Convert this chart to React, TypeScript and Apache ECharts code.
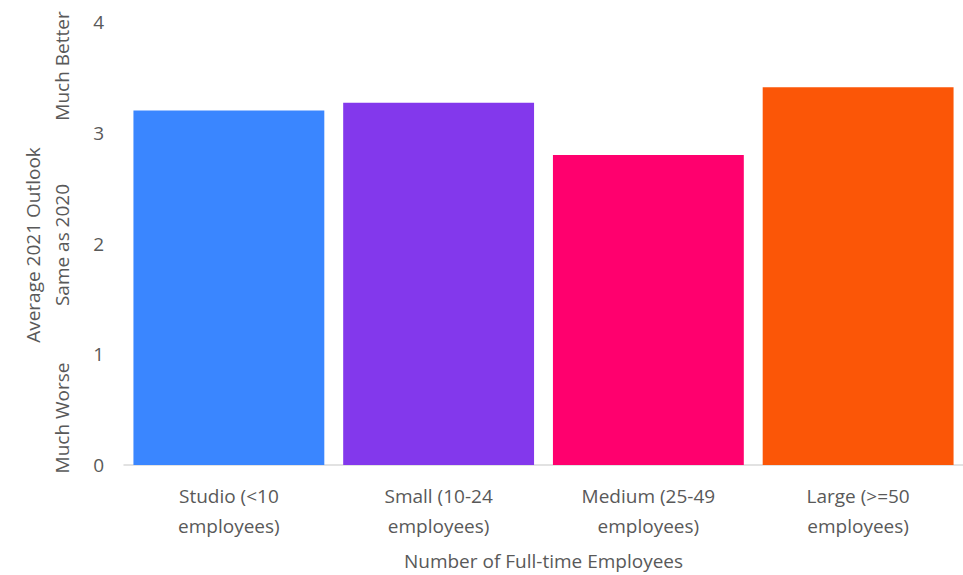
import React, { useEffect, useRef } from "react";
import * as echarts from "echarts";

const categories = ["Studio (<10\nemployees)", "Small (10-24\nemployees)", "Medium (25-49\nemployees)", "Large (>=50\nemployees)"];
const values = [3.2, 3.27, 2.8, 3.41];
const colors = ["#3A86FF", "#8338EC", "#FF006E", "#FB5607"];
const yTicks = [0, 1, 2, 3, 4];
const xAxisTitle = "Number of Full-time Employees";
const yAxisTitle = "Average 2021 Outlook";
const yScaleLabels = ["Much Worse", "Same as 2020", "Much Better"];

const FONT = "'Open Sans', 'Noto Sans', sans-serif";
const GRAY = "#595959";

export default function App() {
  const ref = useRef<HTMLDivElement>(null);
  useEffect(() => {
    const chart = echarts.init(ref.current!, null, { renderer: "svg" });
    chart.setOption({
      animation: false,
      textStyle: { fontFamily: FONT },
      grid: { left: 124, right: 0, top: 22, bottom: 100 },
      xAxis: {
        type: "category",
        data: categories,
        axisLine: { lineStyle: { color: "#d9d9d9", width: 1.5 } },
        axisTick: { show: false },
        axisLabel: { color: GRAY, fontSize: 19, lineHeight: 30, margin: 16, fontFamily: FONT },
        name: xAxisTitle,
        nameLocation: "middle",
        nameGap: 86,
        nameTextStyle: { color: GRAY, fontSize: 19, fontFamily: FONT },
      },
      yAxis: {
        type: "value",
        min: yTicks[0],
        max: yTicks[yTicks.length - 1],
        interval: 1,
        splitLine: { show: false },
        axisLine: { show: false },
        axisTick: { show: false },
        axisLabel: { color: GRAY, fontSize: 19, margin: 20, fontFamily: FONT },
      },
      graphic: [
        {
          type: "text",
          x: 33,
          y: 245,
          rotation: Math.PI / 2,
          style: { text: yAxisTitle, fill: GRAY, font: `19px ${FONT}`, textAlign: "center", textVerticalAlign: "middle" },
        },
        ...yScaleLabels.map((t, i) => ({
          type: "text",
          x: 62,
          y: [418, 245, 66][i],
          rotation: Math.PI / 2,
          style: { text: t, fill: GRAY, font: `19px ${FONT}`, textAlign: "center", textVerticalAlign: "middle" },
        })),
      ],
      series: [
        {
          type: "bar",
          data: values.map((v, i) => ({ value: v, itemStyle: { color: colors[i] } })),
          barCategoryGap: "9%",
        },
      ],
    });
    return () => chart.dispose();
  }, []);
  return <div ref={ref} style={{ width: 963, height: 575, position: "absolute", left: 0, top: 0, background: "#fff" }} />;
}
